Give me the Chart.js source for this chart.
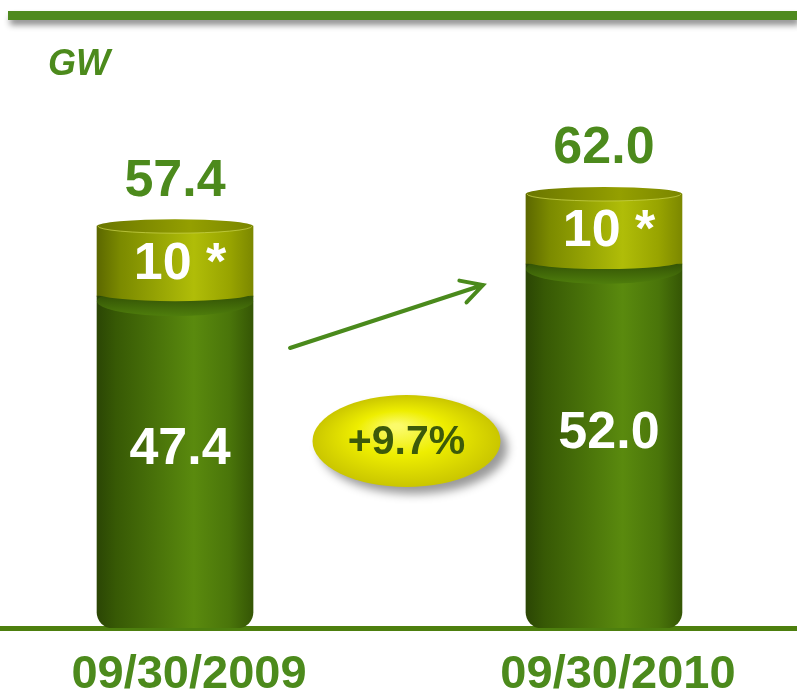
<!DOCTYPE html>
<html>
<head>
<meta charset="utf-8">
<script src="https://cdn.jsdelivr.net/npm/chart.js@4/dist/chart.umd.min.js"></script>
<style>
  html, body { margin: 0; padding: 0; background: #fff; }
  #wrap { width: 797px; height: 692px; }
</style>
</head>
<body>
<div id="wrap"><canvas id="capacityChart" width="797" height="692"></canvas></div>
<script>
// values
const dates = ['09/30/2009', '09/30/2010'];
const baseCapacity = [47.4, 52.0];
const extraCapacity = [10, 10];
const totalCapacity = [57.4, 62.0];
const unit = 'GW';

const FONT = '"Liberation Sans", Arial, sans-serif';
const GREEN = '#4c8a1c';

const greenStops = [[0, '#2b4604'], [0.12, '#375905'], [0.62, '#5a8a0e'], [0.85, '#4a750a'], [1, '#355605']];
const oliveStops = [[0, '#5c6800'], [0.15, '#7b8a00'], [0.62, '#b0bd08'], [0.85, '#98a400'], [1, '#7c8800']];

function cylGrad(ctx, left, right, stops) {
  const g = ctx.createLinearGradient(left, 0, right, 0);
  stops.forEach(([o, c]) => g.addColorStop(o, c));
  return g;
}

function barFill(stops, fallback) {
  return (c) => {
    const chart = c.chart;
    if (!chart.chartArea) return fallback;
    const x = chart.scales.x.getPixelForValue(c.dataIndex);
    return cylGrad(chart.ctx, x - 78, x + 78, stops);
  };
}

const growth = '+' + ((baseCapacity[1] / baseCapacity[0] - 1) * 100).toFixed(1) + '%';

const annotate = {
  id: 'annotate',
  beforeDraw(chart) {
    const ctx = chart.ctx;
    // top rule with shadow
    ctx.save();
    ctx.shadowColor = 'rgba(0,0,0,0.45)';
    ctx.shadowBlur = 6;
    ctx.shadowOffsetX = 2;
    ctx.shadowOffsetY = 5;
    ctx.fillStyle = '#4f8a1f';
    ctx.fillRect(8, 11, 789, 9);
    ctx.restore();

    ctx.save();
    ctx.fillStyle = GREEN;
    ctx.font = `italic bold 36px ${FONT}`;
    ctx.textBaseline = 'alphabetic';
    ctx.fillText(unit, 48, 75);
    ctx.restore();
  },
  afterDatasetsDraw(chart) {
    const ctx = chart.ctx;
    const base = chart.getDatasetMeta(0).data;
    const top = chart.getDatasetMeta(1).data;
    ctx.save();
    base.forEach((b, i) => {
      const t = top[i];
      const half = b.width / 2;
      const cx = b.x;
      const gTop = b.y;

      // top face of the green cylinder
      const gf = ctx.createLinearGradient(0, gTop - 10, 0, gTop + 20);
      gf.addColorStop(0, '#263f02');
      gf.addColorStop(1, '#4f7e0c');
      ctx.fillStyle = gf;
      ctx.beginPath();
      ctx.ellipse(cx, gTop + 5, half, 15, 0, 0, Math.PI * 2);
      ctx.fill();

      // curved bottom of the olive cylinder
      ctx.fillStyle = cylGrad(ctx, cx - half, cx + half, oliveStops);
      ctx.beginPath();
      ctx.moveTo(cx - half, gTop - 12);
      ctx.lineTo(cx + half, gTop - 12);
      ctx.lineTo(cx + half, gTop - 3);
      ctx.ellipse(cx, gTop - 3, half, 8, 0, 0, Math.PI);
      ctx.closePath();
      ctx.fill();

      // top face of the olive cylinder
      ctx.fillStyle = cylGrad(ctx, cx - half, cx + half, [[0, '#6a7600'], [0.6, '#949f00'], [1, '#7a8600']]);
      ctx.beginPath();
      ctx.ellipse(cx, t.y, half, 7, 0, 0, Math.PI * 2);
      ctx.fill();
      ctx.strokeStyle = 'rgba(205,215,80,0.7)';
      ctx.lineWidth = 1;
      ctx.beginPath();
      ctx.ellipse(cx, t.y, half - 1, 7, 0, 0, Math.PI);
      ctx.stroke();

      // labels
      ctx.font = `bold 52px ${FONT}`;
      ctx.textAlign = 'center';
      ctx.textBaseline = 'middle';
      ctx.fillStyle = GREEN;
      ctx.fillText(totalCapacity[i].toFixed(1), cx, t.y - 45);
      ctx.fillStyle = '#ffffff';
      ctx.fillText(`${extraCapacity[i]} *`, cx + 5, (t.y + gTop) / 2 + 3);
      ctx.fillText(baseCapacity[i].toFixed(1), cx + 5, (gTop + b.base) / 2 - 12);
    });

    // arrow between the bars
    const x0 = base[0].x, x1 = base[1].x;
    const ax0 = x0 + 115, ay0 = 348, ax1 = x1 - 121, ay1 = 285;
    ctx.strokeStyle = '#4a8a1c';
    ctx.lineWidth = 4;
    ctx.lineCap = 'round';
    ctx.beginPath();
    ctx.moveTo(ax0, ay0);
    ctx.lineTo(ax1, ay1);
    const ang = Math.atan2(ay1 - ay0, ax1 - ax0);
    ctx.moveTo(ax1 - 24 * Math.cos(ang - 0.5), ay1 - 24 * Math.sin(ang - 0.5));
    ctx.lineTo(ax1, ay1);
    ctx.lineTo(ax1 - 24 * Math.cos(ang + 0.5), ay1 - 24 * Math.sin(ang + 0.5));
    ctx.stroke();

    // growth badge
    const ex = (x0 + x1) / 2 + 17, ey = 441, rx = 94, ry = 46;
    ctx.save();
    ctx.shadowColor = 'rgba(0,0,0,0.4)';
    ctx.shadowBlur = 10;
    ctx.shadowOffsetX = 7;
    ctx.shadowOffsetY = 7;
    ctx.translate(ex, ey);
    ctx.scale(1, ry / rx);
    const rg = ctx.createRadialGradient(-10, -30, 5, 0, 0, rx);
    rg.addColorStop(0, '#fbfb6a');
    rg.addColorStop(0.45, '#eeee00');
    rg.addColorStop(1, '#cac600');
    ctx.fillStyle = rg;
    ctx.beginPath();
    ctx.arc(0, 0, rx, 0, Math.PI * 2);
    ctx.fill();
    ctx.restore();
    ctx.fillStyle = '#3c5a0a';
    ctx.font = `bold 41px ${FONT}`;
    ctx.textAlign = 'center';
    ctx.textBaseline = 'middle';
    ctx.fillText(growth, ex, ey + 2);
    ctx.restore();
  }
};

new Chart(document.getElementById('capacityChart'), {
  type: 'bar',
  data: {
    datasets: [
      {
        label: 'Base',
        data: baseCapacity.map((v, i) => ({ x: i, y: v })),
        backgroundColor: barFill(greenStops, '#4a750a'),
        borderWidth: 0,
        borderSkipped: false,
        borderRadius: { topLeft: 0, topRight: 0, bottomLeft: 16, bottomRight: 16 },
        barThickness: 156
      },
      {
        label: 'Extra',
        data: extraCapacity.map((v, i) => ({ x: i, y: v })),
        backgroundColor: barFill(oliveStops, '#98a400'),
        borderWidth: 0,
        borderSkipped: false,
        barThickness: 156
      }
    ]
  },
  options: {
    responsive: false,
    animation: false,
    layout: { padding: { top: 40, left: 0, right: 0, bottom: 0 } },
    plugins: {
      legend: { display: false },
      tooltip: { enabled: false }
    },
    scales: {
      x: {
        type: 'linear',
        stacked: true,
        offset: false,
        min: -0.408,
        max: 1.45,
        z: 1,
        grid: { display: false, drawTicks: false, offset: false },
        border: { display: true, color: '#4d7f0e', width: 5 },
        afterBuildTicks: (scale) => { scale.ticks = dates.map((_, i) => ({ value: i })); },
        afterFit: (scale) => { scale.height = 64; },
        ticks: {
          callback: (v) => dates[v] ?? '',
          color: GREEN,
          font: { family: FONT, size: 47, weight: 'bold' },
          padding: 19,
          labelOffset: 14,
          maxRotation: 0,
          autoSkip: false
        }
      },
      y: {
        display: false,
        stacked: true,
        min: 0,
        max: 84
      }
    }
  },
  plugins: [annotate]
});
</script>
</body>
</html>
